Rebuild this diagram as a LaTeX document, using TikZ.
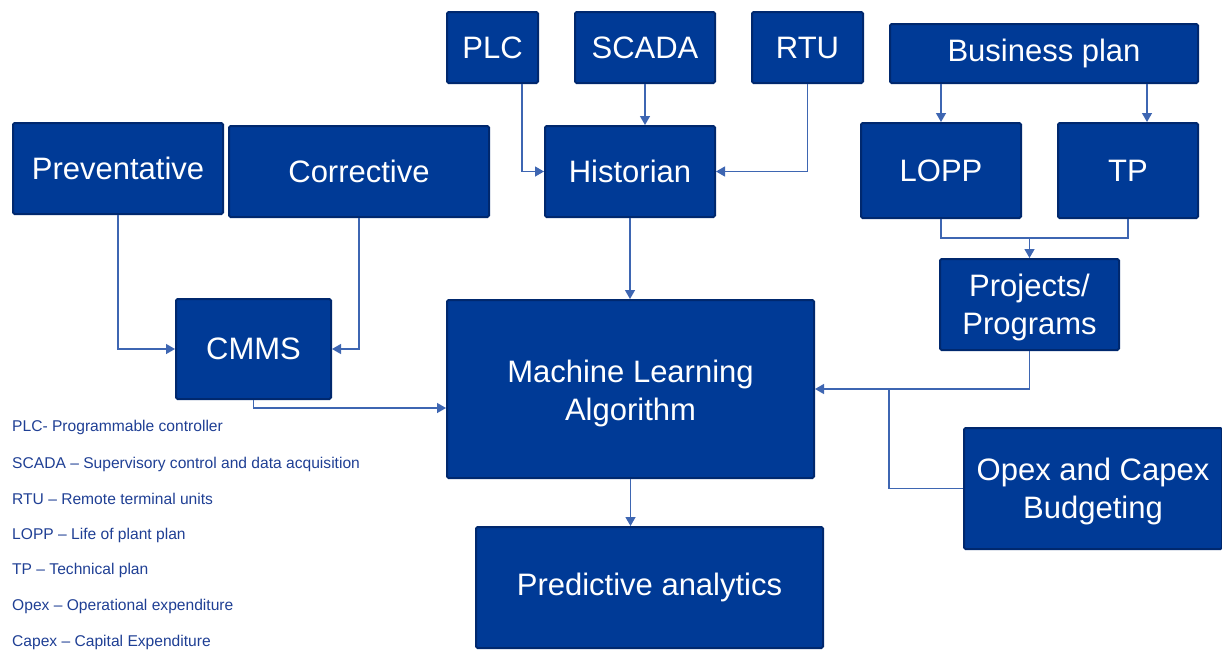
\documentclass[tikz,border=0pt]{standalone}
\usepackage{fontspec}
\setmainfont{Liberation Sans}
\usetikzlibrary{arrows.meta}
\definecolor{boxfill}{HTML}{003A96}
\definecolor{boxedge}{HTML}{00286E}
\definecolor{linkblue}{HTML}{3E66B2}
\definecolor{notetext}{HTML}{1F3F94}
% lower a line of text without changing its reported size
\newcommand{\lowered}[2]{\raisebox{-#1}[\height][\depth]{#2}}
\tikzset{
  box/.style={draw=boxedge, line width=2pt, fill=boxfill, rounded corners=1.5pt,
    text=white, align=center, inner sep=0pt,
    font=\fontsize{31}{38}\selectfont},
  link/.style={draw=linkblue, line width=1.3pt},
  arr/.style={link, -{Triangle[length=9pt,width=10pt]}},
  note/.style={anchor=west, inner sep=0pt, text=notetext,
    font=\fontsize{15.6}{18}\selectfont}
}
\begin{document}
\begin{tikzpicture}[x=1pt, y=-1pt]
\useasboundingbox (0,0) rectangle (1222,651);

% data sources and historian
\node[box, minimum width=91pt,  minimum height=71pt] (plc)   at (492.5,47.5) {PLC};
\node[box, minimum width=140pt, minimum height=71pt] (scada) at (645,47.5)   {SCADA};
\node[box, minimum width=111pt, minimum height=71pt] (rtu)   at (807.5,47.5) {RTU};
\node[box, minimum width=170pt, minimum height=91pt] (hist)  at (630,171.5)  {Historian};

% planning branch
\node[box, minimum width=308pt, minimum height=59pt] (bp)    at (1044,53.5)   {Business plan};
\node[box, minimum width=160pt, minimum height=95pt] (lopp)  at (941,170.5)   {LOPP};
\node[box, minimum width=140pt, minimum height=95pt] (tp)    at (1128,170.5)  {TP};
\node[box, minimum width=179pt, minimum height=91pt] (proj)  at (1029.5,304.5)
  {\lowered{3pt}{Projects/}\\\lowered{3pt}{Programs}};
\node[box, minimum width=258pt, minimum height=121pt] (opex) at (1093,488.5)
  {\lowered{3pt}{Opex and Capex}\\\lowered{3pt}{Budgeting}};

% maintenance branch
\node[box, minimum width=210pt, minimum height=91pt] (prev)  at (118,168.5)  {Preventative};
\node[box, minimum width=260pt, minimum height=91pt] (corr)  at (359,171.5)  {Corrective};
\node[box, minimum width=155pt, minimum height=100pt] (cmms) at (253.5,349)  {CMMS};

% core
\node[box, minimum width=367pt, minimum height=178pt] (ml)   at (630.5,389)
  {\lowered{4pt}{Machine Learning}\\\lowered{4pt}{Algorithm}};
\node[box, minimum width=347pt, minimum height=121pt] (pred) at (649.5,587.5) {Predictive analytics};

% junction points
\coordinate (jtp) at (1029.5,238);
\coordinate (jop) at (889,389);

% connectors
\draw[arr] ([xshift=29.5pt]plc.south) |- (hist.west);
\draw[arr] (scada.south) -- (scada.south |- hist.north);
\draw[arr] (rtu.south) |- (hist.east);
\draw[arr] (hist.south) -- (hist.south |- ml.north);

\draw[arr] (bp.south -| lopp.north) -- (lopp.north);
\draw[arr] ([xshift=19pt]bp.south -| tp.north) -- ([xshift=19pt]tp.north);
\draw[link] (lopp.south) |- (tp.south |- jtp) -- (tp.south);
\draw[arr] (jtp) -- (proj.north);
\draw[arr] (proj.south) |- (ml.east);
\draw[link] (opex.west) -| (jop);

\draw[arr] (prev.south) |- (cmms.west);
\draw[arr] (corr.south) |- (cmms.east);
\draw[arr] (cmms.south) |- ([yshift=-19pt]ml.west);

\draw[arr] (ml.south) -- (ml.south |- pred.north);

% abbreviations
\node[note] (n1) at (12,427) {PLC- Programmable controller};
\node[note] (n2) at (12,464) {SCADA – Supervisory control and data acquisition};
\node[note] (n3) at (12,499) {RTU – Remote terminal units};
\node[note] (n4) at (12,535) {LOPP – Life of plant plan};
\node[note] (n5) at (12,570) {TP – Technical plan};
\node[note] (n6) at (12,606) {Opex – Operational expenditure};
\node[note] (n7) at (12,642) {Capex – Capital Expenditure};
\end{tikzpicture}
\end{document}
